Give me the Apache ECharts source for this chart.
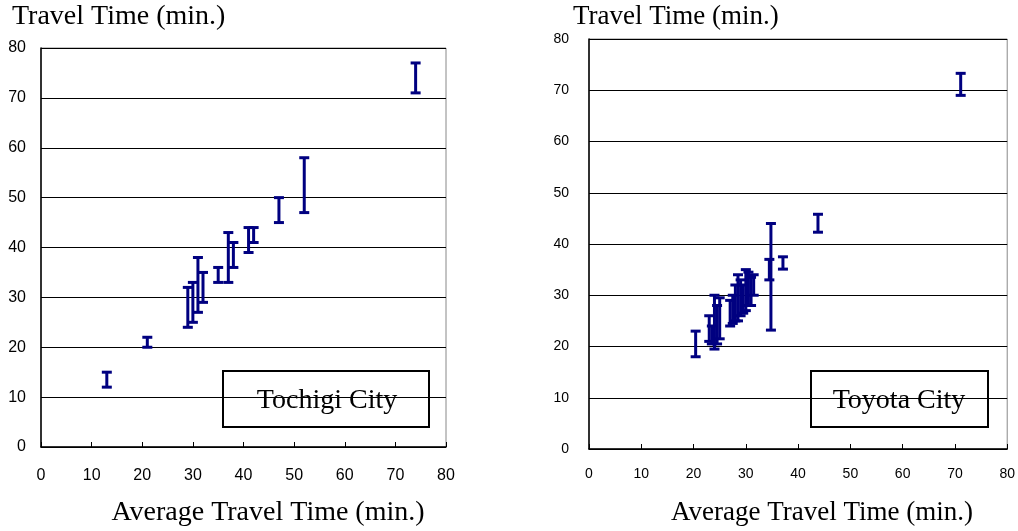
<!DOCTYPE html>
<html><head><meta charset="utf-8">
<script src="https://cdn.jsdelivr.net/npm/echarts@6/dist/echarts.min.js"></script>
<style>html,body{margin:0;padding:0;background:#fff}#c{width:1018px;height:531px}</style>
</head><body><div id="c"></div>
<script>
// Tochigi City: average travel time (x), travel time range low/high (y)
const tochigiX    = [13, 21, 29, 30, 31, 32, 35, 37, 38, 41, 42, 47, 52, 74];
const tochigiLow  = [12, 20, 24, 25, 27, 29, 33, 33, 36, 39, 41, 45, 47, 71];
const tochigiHigh = [15, 22, 32, 33, 38, 35, 36, 43, 41, 44, 44, 50, 58, 77];
// Toyota City
const toyotaX    = [20.4, 23, 23.5, 24, 24.5, 25, 27, 27.5, 28, 28.5, 29, 29.5, 30, 30.5, 31, 31.5, 34.5, 34.8, 37.1, 43.8, 71.1];
const toyotaLow  = [18, 21, 20.5, 19.5, 20.5, 21.5, 24, 24.5, 25, 25, 26, 26.5, 27, 28, 28, 30, 33, 23.2, 35.1, 42.3, 69];
const toyotaHigh = [23, 26, 24, 30, 28, 29.5, 29, 30, 32, 34, 33, 32, 35, 34.5, 33.5, 34, 37, 44, 37.5, 45.8, 73.3];
const xTicks = [0, 10, 20, 30, 40, 50, 60, 70, 80];
const yTitle = 'Travel Time (min.)';
const xTitle = 'Average Travel Time (min.)';
const cityNames = ['Tochigi City', 'Toyota City'];

const navy = '#000080';
function errBar(capHalf) {
  return function (params, api) {
    const x = api.value(0);
    const lo = api.coord([x, api.value(1)]);
    const hi = api.coord([x, api.value(2)]);
    const st = { stroke: navy, lineWidth: 3 };
    return { type: 'group', children: [
      { type: 'line', shape: { x1: lo[0], y1: lo[1], x2: hi[0], y2: hi[1] }, style: st },
      { type: 'line', shape: { x1: lo[0] - capHalf, y1: lo[1], x2: lo[0] + capHalf, y2: lo[1] }, style: st },
      { type: 'line', shape: { x1: hi[0] - capHalf, y1: hi[1], x2: hi[0] + capHalf, y2: hi[1] }, style: st }
    ]};
  };
}
function xAxis(gi, fs, margin) {
  return { type: 'value', gridIndex: gi, min: 0, max: 80, interval: 10,
    axisLine: { show: true, onZero: false, lineStyle: { color: '#000', width: 1.5 } },
    axisTick: { show: true, inside: true, length: 5, lineStyle: { color: '#000' } },
    axisLabel: { color: '#000', fontFamily: 'Liberation Sans', fontSize: fs, margin: margin,
      formatter: v => xTicks.includes(v) ? String(v) : '' },
    splitLine: { show: false } };
}
function yAxis(gi, fs, margin) {
  return { type: 'value', gridIndex: gi, min: 0, max: 80, interval: 10,
    axisLine: { show: true, onZero: false, lineStyle: { color: '#000', width: 1.5 } },
    axisTick: { show: false },
    axisLabel: { color: '#000', fontFamily: 'Liberation Sans', fontSize: fs, margin: margin },
    splitLine: { show: true, lineStyle: { color: '#000', width: 1 } } };
}
const chart = echarts.init(document.getElementById('c'), null, { renderer: 'canvas' });
chart.setOption({
  animation: false,
  backgroundColor: '#fff',
  grid: [
    { left: 41, top: 48, width: 405, height: 399, show: true, borderColor: '#888', borderWidth: 1, backgroundColor: 'transparent' },
    { left: 589, top: 39, width: 419, height: 410, show: true, borderColor: '#888', borderWidth: 1, backgroundColor: 'transparent' }
  ],
  xAxis: [xAxis(0, 16, 21), xAxis(1, 14, 18)],
  yAxis: [yAxis(0, 16, 15), yAxis(1, 14, 20)],
  series: [
    { type: 'custom', xAxisIndex: 0, yAxisIndex: 0, renderItem: errBar(5),
      data: tochigiX.map((x, i) => [x, tochigiLow[i], tochigiHigh[i]]), encode: { x: 0, y: [1, 2] } },
    { type: 'custom', xAxisIndex: 1, yAxisIndex: 1, renderItem: errBar(5),
      data: toyotaX.map((x, i) => [x, toyotaLow[i], toyotaHigh[i]]), encode: { x: 0, y: [1, 2] } }
  ],
  graphic: [
    { type: 'text', left: 12, top: 3, style: { text: yTitle, font: '28px "Liberation Serif"', fill: '#000' } },
    { type: 'text', left: 573, top: 3, style: { text: yTitle, font: '27px "Liberation Serif"', fill: '#000' } },
    { type: 'text', x: 268, y: 513, style: { text: xTitle, font: '28px "Liberation Serif"', fill: '#000', align: 'center', verticalAlign: 'middle' } },
    { type: 'text', x: 822, y: 513, style: { text: xTitle, font: '27px "Liberation Serif"', fill: '#000', align: 'center', verticalAlign: 'middle' } },
    { type: 'rect', shape: { x: 223, y: 371, width: 206, height: 56 }, style: { fill: '#fff', stroke: '#000', lineWidth: 2 } },
    { type: 'text', x: 327, y: 401, style: { text: cityNames[0], font: '28px "Liberation Serif"', fill: '#000', align: 'center', verticalAlign: 'middle' } },
    { type: 'rect', shape: { x: 811, y: 371, width: 177, height: 56 }, style: { fill: '#fff', stroke: '#000', lineWidth: 2 } },
    { type: 'text', x: 899, y: 401, style: { text: cityNames[1], font: '28px "Liberation Serif"', fill: '#000', align: 'center', verticalAlign: 'middle' } }
  ]
});
</script></body></html>
